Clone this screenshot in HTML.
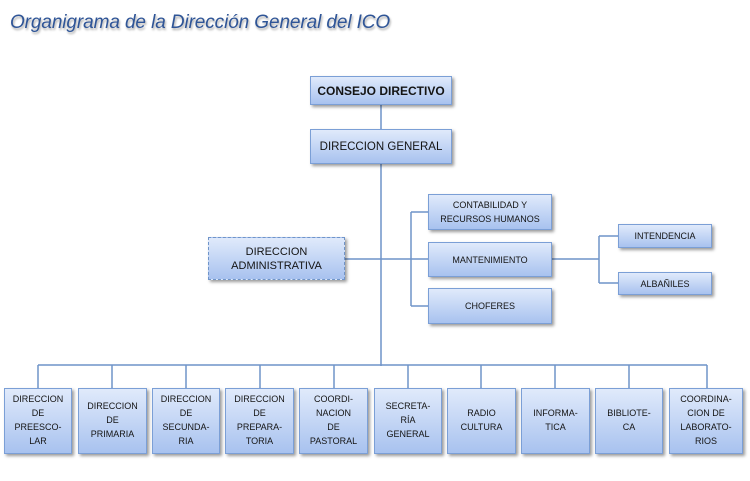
<!DOCTYPE html>
<html><head><meta charset="utf-8"><style>
*{margin:0;padding:0;box-sizing:border-box}
body{width:750px;height:481px;background:#fff;position:relative;overflow:hidden;font-family:"Liberation Sans",Arial,sans-serif;color:#141414}
.t{position:absolute;left:10px;top:12px;font-size:19px;font-style:italic;color:#2f5597;text-shadow:1px 2px 2px rgba(0,0,0,0.35);white-space:nowrap;letter-spacing:-0.1px}
.b{position:absolute;border:1px solid #7b9fd6;background:linear-gradient(#e0eafb,#a8c2ef);box-shadow:2px 2px 3px rgba(0,0,0,0.4);display:flex;align-items:center;justify-content:center;text-align:center;white-space:nowrap}
.s{font-size:9px;line-height:14px}
.r{font-size:9px;line-height:13.8px}
svg{position:absolute;left:0;top:0}
</style></head><body>
<div class="t">Organigrama de la Dirección General del ICO</div>
<svg width="750" height="481">
<g stroke="#6f94c9" stroke-width="1.5" fill="none">
<line x1="381" y1="105" x2="381" y2="366"/>
<line x1="345" y1="259" x2="428" y2="259"/>
<line x1="411" y1="212" x2="411" y2="306"/>
<line x1="411" y1="212" x2="428" y2="212"/>
<line x1="411" y1="306" x2="428" y2="306"/>
<line x1="552" y1="259" x2="599" y2="259"/>
<line x1="599" y1="236" x2="599" y2="283"/>
<line x1="599" y1="236" x2="618" y2="236"/>
<line x1="599" y1="283" x2="618" y2="283"/>
<line x1="38" y1="365" x2="707" y2="365"/>
<line x1="38" y1="365" x2="38" y2="388"/>
<line x1="112" y1="365" x2="112" y2="388"/>
<line x1="186" y1="365" x2="186" y2="388"/>
<line x1="260" y1="365" x2="260" y2="388"/>
<line x1="334" y1="365" x2="334" y2="388"/>
<line x1="408" y1="365" x2="408" y2="388"/>
<line x1="481" y1="365" x2="481" y2="388"/>
<line x1="555" y1="365" x2="555" y2="388"/>
<line x1="629" y1="365" x2="629" y2="388"/>
<line x1="707" y1="365" x2="707" y2="388"/>
</g></svg>

<div class="b" style="left:310px;top:76px;width:142px;height:29px;font-size:12px;font-weight:bold">CONSEJO DIRECTIVO</div>
<div class="b" style="left:310px;top:129px;width:142px;height:35px;font-size:11.5px">DIRECCION GENERAL</div>
<div class="b" style="left:208px;top:237px;width:137px;height:43px;font-size:11px;line-height:14px;border:1px dashed #6f94c9">DIRECCION<br>ADMINISTRATIVA</div>

<div class="b s" style="left:428px;top:194px;width:124px;height:36px">CONTABILIDAD Y<br>RECURSOS HUMANOS</div>
<div class="b s" style="left:428px;top:242px;width:124px;height:35px">MANTENIMIENTO</div>
<div class="b s" style="left:428px;top:288px;width:124px;height:36px">CHOFERES</div>
<div class="b s" style="left:618px;top:224px;width:94px;height:24px">INTENDENCIA</div>
<div class="b s" style="left:618px;top:272px;width:94px;height:23px">ALBAÑILES</div>

<div class="b r" style="left:4px;top:388px;width:68px;height:66px">DIRECCION<br>DE<br>PREESCO-<br>LAR</div>
<div class="b r" style="left:78px;top:388px;width:69px;height:66px">DIRECCION<br>DE<br>PRIMARIA</div>
<div class="b r" style="left:152px;top:388px;width:68px;height:66px">DIRECCION<br>DE<br>SECUNDA-<br>RIA</div>
<div class="b r" style="left:225px;top:388px;width:69px;height:66px">DIRECCION<br>DE<br>PREPARA-<br>TORIA</div>
<div class="b r" style="left:299px;top:388px;width:69px;height:66px">COORDI-<br>NACION<br>DE<br>PASTORAL</div>
<div class="b r" style="left:374px;top:388px;width:68px;height:66px">SECRETA-<br>RÍA<br>GENERAL</div>
<div class="b r" style="left:447px;top:388px;width:69px;height:66px">RADIO<br>CULTURA</div>
<div class="b r" style="left:521px;top:388px;width:69px;height:66px">INFORMA-<br>TICA</div>
<div class="b r" style="left:595px;top:388px;width:68px;height:66px">BIBLIOTE-<br>CA</div>
<div class="b r" style="left:669px;top:388px;width:74px;height:66px">COORDINA-<br>CION DE<br>LABORATO-<br>RIOS</div>
</body></html>
